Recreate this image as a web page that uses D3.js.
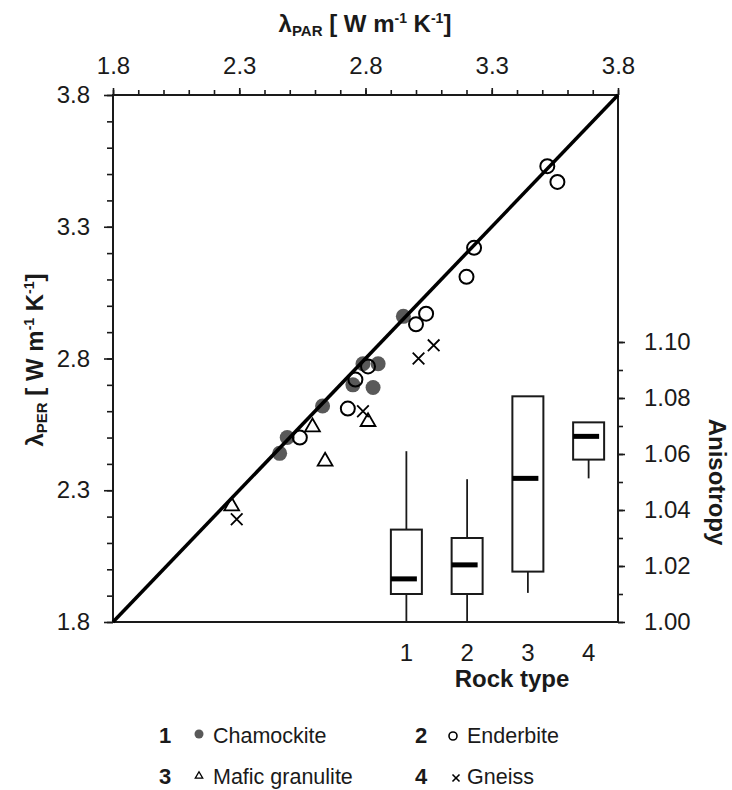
<!DOCTYPE html>
<html>
<head>
<meta charset="utf-8">
<script src="https://cdn.jsdelivr.net/npm/d3@7"></script>
<style>
  body { margin: 0; background: #fff; }
  svg text { font-family: "Liberation Sans", Arial, sans-serif; fill: #1a1a1a; }
</style>
</head>
<body>
<svg id="chart" width="732" height="790"></svg>
<script>
// Thermal conductivity, parallel vs perpendicular to foliation [W m-1 K-1]
const charnockitePar = [2.95, 2.79, 2.85, 2.75, 2.83, 2.63, 2.49, 2.46];
const charnockitePer = [2.96, 2.78, 2.78, 2.70, 2.69, 2.62, 2.50, 2.44];
const enderbitePar = [3.52, 3.56, 3.23, 3.20, 3.04, 3.00, 2.81, 2.76, 2.73, 2.54];
const enderbitePer = [3.53, 3.47, 3.22, 3.11, 2.97, 2.93, 2.77, 2.72, 2.61, 2.50];
const maficPar = [2.27, 2.59, 2.81, 2.64];
const maficPer = [2.24, 2.54, 2.56, 2.41];
const gneissPar = [2.29, 2.79, 3.01, 3.07];
const gneissPer = [2.19, 2.60, 2.80, 2.85];

const lambdaTicks = [1.8, 2.3, 2.8, 3.3, 3.8];
const anisoTicks = [1.00, 1.02, 1.04, 1.06, 1.08, 1.10];

// Anisotropy box plot per rock type
const rockTypes = [1, 2, 3, 4];
const rockNames = ['Chamockite', 'Enderbite', 'Mafic granulite', 'Gneiss'];
const boxMin = [1.000, 1.000, 1.0104, 1.0513];
const boxQ1 = [1.010, 1.010, 1.018, 1.058];
const boxMedian = [1.0154, 1.0204, 1.0513, 1.0663];
const boxQ3 = [1.033, 1.030, 1.0806, 1.0713];
const boxMax = [1.061, 1.051, 1.0806, 1.0713];

const svg = d3.select('#chart');
const gray = '#595959';

const x = d3.scaleLinear().domain([1.8, 3.8]).range([113, 618]);
const y = d3.scaleLinear().domain([1.8, 3.8]).range([622, 95]);
const ya = d3.scaleLinear().domain([1.00, 1.10]).range([622, 342]);
const xb = d3.scaleBand().domain(rockTypes).range([376, 619]);

// Minor ticks every 0.1 / 0.01
const lambdaMinor = d3.range(18, 39).map((d) => d / 10);
const anisoMinor = d3.range(0, 11).map((d) => 1 + d / 100);

const fmt1 = d3.format('.1f');

// top axis
svg.append('g')
    .attr('transform', 'translate(0,95)')
    .call(d3.axisTop(x).tickValues(lambdaMinor).tickSize(5).tickFormat(''))
    .call((g) => g.select('.domain').remove());
svg.append('g')
    .attr('transform', 'translate(0,95)')
    .call(d3.axisTop(x).tickValues(lambdaTicks).tickSize(7).tickPadding(14).tickFormat(fmt1))
    .call((g) => g.selectAll('text').attr('font-size', 24).attr('font-family', null));

// left axis
svg.append('g')
    .attr('transform', 'translate(113,0)')
    .call(d3.axisLeft(y).tickValues(lambdaMinor).tickSize(6).tickFormat(''))
    .call((g) => g.select('.domain').remove());
svg.append('g')
    .attr('transform', 'translate(113,0)')
    .call(d3.axisLeft(y).tickValues(lambdaTicks).tickSize(9).tickPadding(14).tickFormat(fmt1))
    .call((g) => g.selectAll('text').attr('font-size', 24).attr('font-family', null));

// right anisotropy axis
svg.append('g')
    .attr('transform', 'translate(618,0)')
    .call(d3.axisRight(ya).tickValues(anisoMinor).tickSize(5).tickFormat(''))
    .call((g) => g.select('.domain').remove());
svg.append('g')
    .attr('transform', 'translate(618,0)')
    .call(d3.axisRight(ya).tickValues(anisoTicks).tickSize(7).tickPadding(19).tickFormat(d3.format('.2f')))
    .call((g) => g.select('.domain').remove())
    .call((g) => g.selectAll('text').attr('font-size', 24).attr('font-family', null));

// bottom rock type axis (labels only)
svg.append('g')
    .attr('transform', 'translate(0,622)')
    .call(d3.axisBottom(xb).tickSize(0).tickPadding(22))
    .call((g) => g.select('.domain').remove())
    .call((g) => g.selectAll('text').attr('font-size', 24).attr('font-family', null));

svg.selectAll('.tick line').attr('stroke', '#1a1a1a').attr('stroke-width', 1.6);

// frame
svg.append('rect')
    .attr('x', x(1.8)).attr('y', y(3.8))
    .attr('width', x(3.8) - x(1.8)).attr('height', y(1.8) - y(3.8))
    .attr('fill', 'none').attr('stroke', '#1a1a1a').attr('stroke-width', 2);

// boxplots
const bw = 31;
const boxes = svg.append('g').selectAll('g').data(rockTypes).enter().append('g');
boxes.append('line')
    .attr('x1', (d) => xb(d) + xb.bandwidth() / 2).attr('x2', (d) => xb(d) + xb.bandwidth() / 2)
    .attr('y1', (d, i) => ya(boxMin[i])).attr('y2', (d, i) => ya(boxQ1[i]))
    .attr('stroke', '#1a1a1a').attr('stroke-width', 1.8);
boxes.append('line')
    .attr('x1', (d) => xb(d) + xb.bandwidth() / 2).attr('x2', (d) => xb(d) + xb.bandwidth() / 2)
    .attr('y1', (d, i) => ya(boxQ3[i])).attr('y2', (d, i) => ya(boxMax[i]))
    .attr('stroke', '#1a1a1a').attr('stroke-width', 1.8);
boxes.append('rect')
    .attr('x', (d) => xb(d) + xb.bandwidth() / 2 - bw / 2)
    .attr('y', (d, i) => ya(boxQ3[i]))
    .attr('width', bw)
    .attr('height', (d, i) => ya(boxQ1[i]) - ya(boxQ3[i]))
    .attr('fill', 'none').attr('stroke', '#1a1a1a').attr('stroke-width', 2);
boxes.append('line')
    .attr('x1', (d) => xb(d) + xb.bandwidth() / 2 - bw / 2)
    .attr('x2', (d) => xb(d) + xb.bandwidth() / 2 - bw / 2 + 26)
    .attr('y1', (d, i) => ya(boxMedian[i])).attr('y2', (d, i) => ya(boxMedian[i]))
    .attr('stroke', '#000').attr('stroke-width', 5);

// scatter points
const toPts = (xs, ys) => xs.map((v, i) => [v, ys[i]]);
const pts = svg.append('g');

pts.selectAll('circle.ch').data(toPts(charnockitePar, charnockitePer)).enter().append('circle')
    .attr('class', 'ch')
    .attr('cx', (d) => x(d[0])).attr('cy', (d) => y(d[1])).attr('r', 7.5)
    .attr('fill', gray);

// 1:1 line
svg.append('line')
    .attr('x1', x(1.8)).attr('y1', y(1.8)).attr('x2', x(3.8)).attr('y2', y(3.8))
    .attr('stroke', '#000').attr('stroke-width', 3.5);

const pts2 = svg.append('g');
pts2.selectAll('circle.en').data(toPts(enderbitePar, enderbitePer)).enter().append('circle')
    .attr('class', 'en')
    .attr('cx', (d) => x(d[0])).attr('cy', (d) => y(d[1])).attr('r', 7)
    .attr('fill', 'none').attr('stroke', '#000').attr('stroke-width', 2);

const tri = d3.symbol().type(d3.symbolTriangle).size(95);
pts2.selectAll('path.mf').data(toPts(maficPar, maficPer)).enter().append('path')
    .attr('class', 'mf')
    .attr('d', tri)
    .attr('transform', (d) => `translate(${x(d[0])},${y(d[1])})`)
    .attr('fill', 'none').attr('stroke', '#000').attr('stroke-width', 1.8);

const cross = d3.symbol().type(d3.symbolX).size(90);
pts2.selectAll('path.gn').data(toPts(gneissPar, gneissPer)).enter().append('path')
    .attr('class', 'gn')
    .attr('d', cross)
    .attr('transform', (d) => `translate(${x(d[0])},${y(d[1])})`)
    .attr('fill', 'none').attr('stroke', '#000').attr('stroke-width', 1.8);

// axis titles
const lambdaTitle = (t, sub) => {
    t.append('tspan').text('λ');
    t.append('tspan').text(sub).attr('font-size', 15).attr('dy', 4);
    t.append('tspan').text(' [ W m').attr('dy', -4);
    t.append('tspan').text('-1').attr('font-size', 14).attr('dy', -9);
    t.append('tspan').text(' K').attr('dy', 9);
    t.append('tspan').text('-1').attr('font-size', 14).attr('dy', -9);
    t.append('tspan').text(']').attr('dy', 9);
};

const topTitle = svg.append('text')
    .attr('x', 365).attr('y', 32)
    .attr('text-anchor', 'middle').attr('font-size', 24).attr('font-weight', 'bold');
lambdaTitle(topTitle, 'PAR');

const leftTitle = svg.append('text')
    .attr('transform', 'translate(43,360) rotate(-90)')
    .attr('text-anchor', 'middle').attr('font-size', 24).attr('font-weight', 'bold');
lambdaTitle(leftTitle, 'PER');

svg.append('text')
    .attr('transform', 'translate(709,482) rotate(90)')
    .attr('text-anchor', 'middle').attr('font-size', 24).attr('font-weight', 'bold')
    .text('Anisotropy');

svg.append('text')
    .attr('x', 512).attr('y', 687)
    .attr('text-anchor', 'middle').attr('font-size', 24).attr('font-weight', 'bold')
    .text('Rock type');

// legend
const legendX = [165, 421, 165, 421];
const legendY = [743, 743, 784, 784];
const lg = svg.append('g').selectAll('g').data(rockTypes).enter().append('g')
    .attr('transform', (d, i) => `translate(${legendX[i]},${legendY[i]})`);
lg.append('text')
    .attr('text-anchor', 'middle').attr('font-size', 22).attr('font-weight', 'bold')
    .text((d) => d);
lg.append('text')
    .attr('x', (d, i) => (i % 2 === 0 ? 48 : 46)).attr('font-size', 21.5)
    .text((d, i) => rockNames[i]);
lg.filter((d) => d === 1).append('circle')
    .attr('cx', 34).attr('cy', -9).attr('r', 4.5).attr('fill', gray);
lg.filter((d) => d === 2).append('circle')
    .attr('cx', 32).attr('cy', -7).attr('r', 4)
    .attr('fill', 'none').attr('stroke', '#000').attr('stroke-width', 1.6);
lg.filter((d) => d === 3).append('path')
    .attr('d', d3.symbol().type(d3.symbolTriangle).size(24))
    .attr('transform', 'translate(34,-8)')
    .attr('fill', 'none').attr('stroke', '#000').attr('stroke-width', 1.3);
lg.filter((d) => d === 4).append('path')
    .attr('d', d3.symbol().type(d3.symbolX).size(34))
    .attr('transform', 'translate(35,-6)')
    .attr('fill', 'none').attr('stroke', '#000').attr('stroke-width', 1.6);
</script>
</body>
</html>
